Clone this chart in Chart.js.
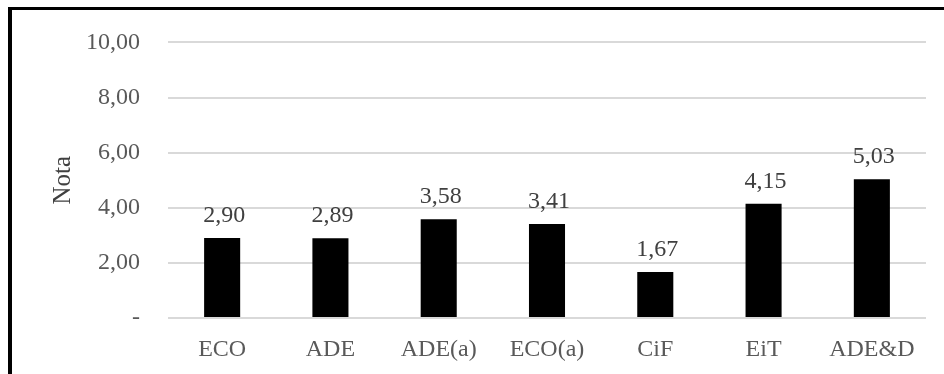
<!DOCTYPE html>
<html>
<head>
<meta charset="utf-8">
<script src="https://cdn.jsdelivr.net/npm/chart.js@4/dist/chart.umd.min.js"></script>
<style>
  html, body { margin: 0; padding: 0; background: #fff; }
  #wrap { position: relative; width: 944px; height: 374px; overflow: hidden; }
  #frame { position: absolute; left: 8px; top: 7px; width: 960px; height: 400px;
           border-left: 4px solid #000; border-top: 3px solid #000; box-sizing: border-box; }
  #nota { position: absolute; left: 0; top: 0; }
</style>
</head>
<body>
<div id="wrap">
  <div id="frame"></div>
  <canvas id="nota" width="944" height="374"></canvas>
</div>
<script>
// Nota media per titulació
const titulacions = ['ECO', 'ADE', 'ADE(a)', 'ECO(a)', 'CiF', 'EiT', 'ADE&D'];
const notes = [2.90, 2.89, 3.58, 3.41, 1.67, 4.15, 5.03];
const ticksY = [0, 2, 4, 6, 8, 10];

const SERIF = '"Liberation Serif", "Times New Roman", serif';
const fmtNum = v => v.toFixed(2).replace('.', ',');

// etiquetes de valor damunt de cada barra
const valueLabels = {
  id: 'valueLabels',
  afterDatasetsDraw(chart) {
    const ctx = chart.ctx;
    const meta = chart.getDatasetMeta(0);
    ctx.save();
    ctx.font = '24px ' + SERIF;
    ctx.fillStyle = '#404040';
    ctx.textAlign = 'center';
    ctx.textBaseline = 'alphabetic';
    meta.data.forEach((bar, i) => {
      ctx.fillText(fmtNum(notes[i]), bar.x + 2, bar.y - 16);
    });
    ctx.restore();
  }
};

new Chart(document.getElementById('nota'), {
  type: 'bar',
  data: {
    labels: titulacions,
    datasets: [{
      data: notes,
      backgroundColor: '#000',
      borderWidth: 0,
      barPercentage: 0.333,
      categoryPercentage: 1
    }]
  },
  options: {
    responsive: false,
    devicePixelRatio: 1,
    animation: false,
    layout: { padding: { top: 37, right: 18, bottom: 0, left: 0 } },
    plugins: { legend: { display: false }, tooltip: { enabled: false } },
    scales: {
      x: {
        grid: { display: false },
        border: { display: false },
        ticks: { color: '#595959', font: { family: SERIF, size: 24 }, padding: 9 },
        afterFit: s => { s.height = 56; }
      },
      y: {
        min: 0, max: 10,
        afterBuildTicks: s => { s.ticks = ticksY.map(v => ({ value: v })); },
        grid: { color: '#d9d9d9', lineWidth: 2, drawTicks: false },
        border: { display: false },
        ticks: {
          color: '#595959', font: { family: SERIF, size: 24 }, padding: 28,
          callback: v => v === 0 ? '-' : fmtNum(v)
        },
        title: {
          display: true, text: 'Nota', color: '#404040',
          font: { family: SERIF, size: 25 }, padding: { top: 48, bottom: 0 }
        },
        afterFit: s => { s.width = 168; }
      }
    }
  },
  plugins: [valueLabels]
});
</script>
</body>
</html>
